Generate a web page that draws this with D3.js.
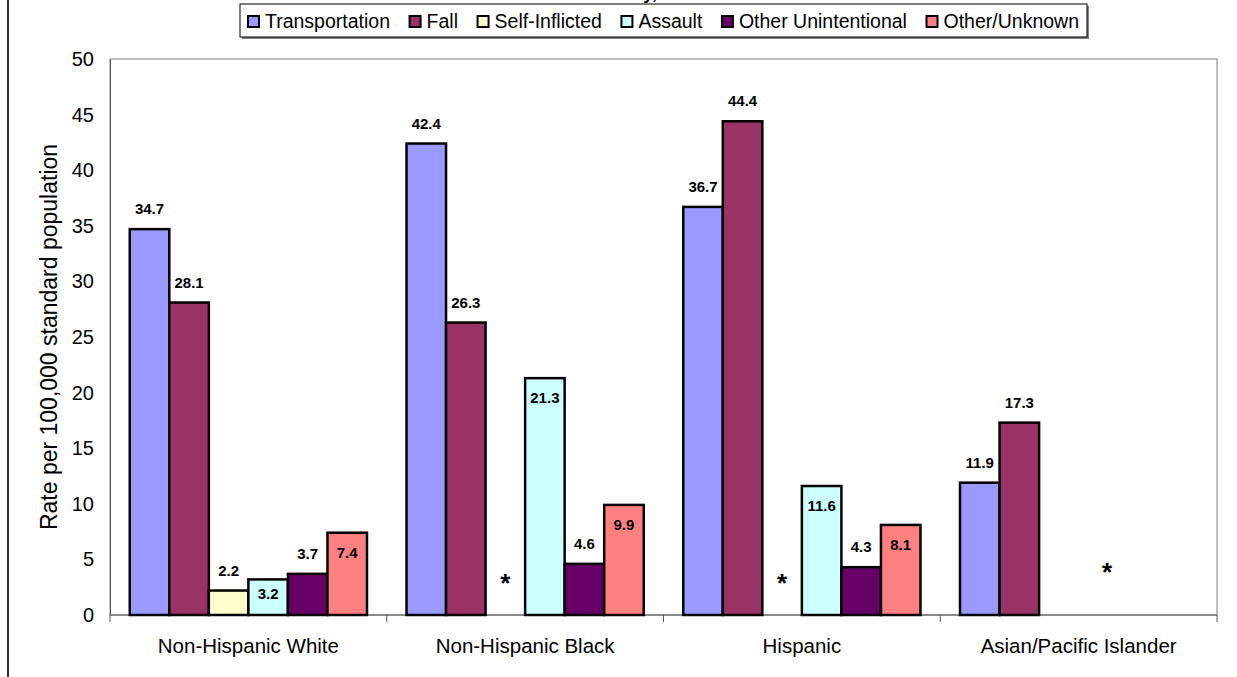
<!DOCTYPE html>
<html>
<head>
<meta charset="utf-8">
<script src="https://cdn.jsdelivr.net/npm/d3@7"></script>
<style>
  html, body { margin: 0; padding: 0; background: #fff; }
  svg { display: block; font-family: "Liberation Sans", Arial, sans-serif; }
</style>
</head>
<body>
<svg id="chart" width="1237" height="677"></svg>
<script>
// Age-adjusted rates per 100,000 by race/ethnicity and cause
const groups = ["Non-Hispanic White", "Non-Hispanic Black", "Hispanic", "Asian/Pacific Islander"];
const causes = ["Transportation", "Fall", "Self-Inflicted", "Assault", "Other Unintentional", "Other/Unknown"];

// one array per cause, ordered like `groups`; null = rate suppressed (shown as *)
const transportation     = [34.7, 42.4, 36.7, 11.9];
const fall               = [28.1, 26.3, 44.4, 17.3];
const selfInflicted      = [2.2, null, null, null];
const assault            = [3.2, 21.3, 11.6, null];
const otherUnintentional = [3.7, 4.6, 4.3, null];
const otherUnknown       = [7.4, 9.9, 8.1, null];

const yTicks = [0, 5, 10, 15, 20, 25, 30, 35, 40, 45, 50];
const titleTail = "Race/Ethnicity,";

const seriesValues = [transportation, fall, selfInflicted, assault, otherUnintentional, otherUnknown];
const colors = ["#9999FF", "#993366", "#FFFFCC", "#CCFFFF", "#660066", "#FF8080"];
// series whose value labels sit just inside the top of the bar
const insideLabelSeries = ["Assault", "Other/Unknown"];

const svg = d3.select("#chart");
const plot = { left: 110, right: 1217, top: 59, bottom: 615 };

const x0 = d3.scaleBand().domain(groups).range([plot.left, plot.right]).padding(0);
const x1 = d3.scaleBand().domain(causes).range([0, x0.bandwidth()]).paddingInner(0).paddingOuter(0.5);
const y = d3.scaleLinear().domain([0, 50]).range([plot.bottom, plot.top]);

// outer chart border (left edge)
svg.append("line").attr("x1", 8).attr("x2", 8).attr("y1", 0).attr("y2", 677)
  .attr("stroke", "#333").attr("stroke-width", 2);

// title sits above the frame; only its descenders reach inside
svg.append("text").attr("x", 657).attr("y", -1).attr("text-anchor", "end")
  .attr("font-size", 18).attr("font-weight", "bold").text(titleTail);

// plot frame
svg.append("rect").attr("x", plot.left).attr("y", plot.top)
  .attr("width", plot.right - plot.left).attr("height", plot.bottom - plot.top)
  .attr("fill", "none").attr("stroke", "#808080").attr("stroke-width", 1);

// y axis labels
const yAxis = d3.axisLeft(y).tickValues(yTicks).tickSize(0).tickPadding(16).tickFormat(d3.format("d"));
const gy = svg.append("g").attr("transform", `translate(${plot.left},0)`).call(yAxis);
gy.select(".domain").attr("stroke", "#555");
gy.selectAll("text").attr("font-size", 20).attr("fill", "#000")
  .attr("font-family", "Liberation Sans, Arial, sans-serif");

// x axis with ticks between categories
const gx = svg.append("g").attr("transform", `translate(0,${plot.bottom})`);
gx.append("line").attr("x1", plot.left).attr("x2", plot.right).attr("stroke", "#555");
const boundaries = groups.map(g => x0(g)).concat([plot.right]);
gx.selectAll("line.tick").data(boundaries).join("line").attr("class", "tick")
  .attr("x1", d => d).attr("x2", d => d).attr("y1", 0).attr("y2", 7).attr("stroke", "#555");
gx.selectAll("text.cat").data(groups).join("text").attr("class", "cat")
  .attr("x", d => x0(d) + x0.bandwidth() / 2).attr("y", 38)
  .attr("text-anchor", "middle").attr("font-size", 20.5).text(d => d);

// y axis title
svg.append("text")
  .attr("transform", `translate(57,${(plot.top + plot.bottom) / 2}) rotate(-90)`)
  .attr("text-anchor", "middle").attr("font-size", 23)
  .text("Rate per 100,000 standard population");

// bars
const rows = [];
groups.forEach((g, gi) => {
  causes.forEach((c, ci) => {
    rows.push({ group: g, cause: c, ci, value: seriesValues[ci][gi] });
  });
});
const present = rows.filter(r => r.value !== null);

svg.append("g").selectAll("rect").data(present).join("rect")
  .attr("x", d => x0(d.group) + x1(d.cause))
  .attr("y", d => y(d.value))
  .attr("width", x1.bandwidth())
  .attr("height", d => y(0) - y(d.value))
  .attr("fill", d => colors[d.ci])
  .attr("stroke", "#000").attr("stroke-width", 2.5);

// value labels
svg.append("g").selectAll("text").data(present).join("text")
  .attr("x", d => x0(d.group) + x1(d.cause) + x1.bandwidth() / 2)
  .attr("y", d => {
    const top = y(d.value), h = y(0) - top;
    return insideLabelSeries.includes(d.cause) ? top + Math.min(25, h * 0.56) : top - 15;
  })
  .attr("text-anchor", "middle").attr("font-size", 15).attr("font-weight", "bold")
  .text(d => d3.format(".1f")(d.value));

// asterisks for suppressed rates: one per consecutive run of missing values
const marks = [];
groups.forEach(g => {
  let run = [];
  const flush = () => {
    if (run.length) {
      const a = x0(g) + x1(run[0]);
      const b = x0(g) + x1(run[run.length - 1]) + x1.bandwidth();
      marks.push({ x: (a + b) / 2, full: run.length > 1 });
    }
    run = [];
  };
  causes.forEach((c, ci) => {
    if (seriesValues[ci][groups.indexOf(g)] === null) run.push(c); else flush();
  });
  flush();
});
svg.append("g").selectAll("text").data(marks).join("text")
  .attr("x", d => d.x + (d.full ? -11 : 0))
  .attr("y", d => y(d.full ? 4.4 : 3.4) + 15)
  .attr("text-anchor", "middle").attr("font-size", 26).attr("font-weight", "bold").text("*");

// legend
const legend = svg.append("g");
const lgBox = { x: 240, y: 4, w: 847, h: 33 };
legend.append("rect").attr("x", lgBox.x + 2).attr("y", lgBox.y + 2)
  .attr("width", lgBox.w).attr("height", lgBox.h).attr("fill", "#808080");
legend.append("rect").attr("x", lgBox.x).attr("y", lgBox.y)
  .attr("width", lgBox.w).attr("height", lgBox.h).attr("fill", "#fff")
  .attr("stroke", "#000").attr("stroke-width", 1);

const items = legend.selectAll("g.item").data(causes).join("g").attr("class", "item");
items.append("rect").attr("width", 11).attr("height", 11).attr("y", 16)
  .attr("fill", (d, i) => colors[i]).attr("stroke", "#000").attr("stroke-width", 2);
items.append("text").attr("x", 17).attr("y", 28).attr("font-size", 19.5).text(d => d);

// lay the entries out in a row, spread evenly inside the box
const widths = [];
items.each(function () { widths.push(17 + d3.select(this).select("text").node().getComputedTextLength()); });
const total = d3.sum(widths);
const pad = 8;
const gap = (lgBox.w - 2 * pad - total) / (causes.length - 1);
let cx = lgBox.x + pad;
items.attr("transform", (d, i) => { const t = `translate(${cx},0)`; cx += widths[i] + gap; return t; });
</script>
</body>
</html>
